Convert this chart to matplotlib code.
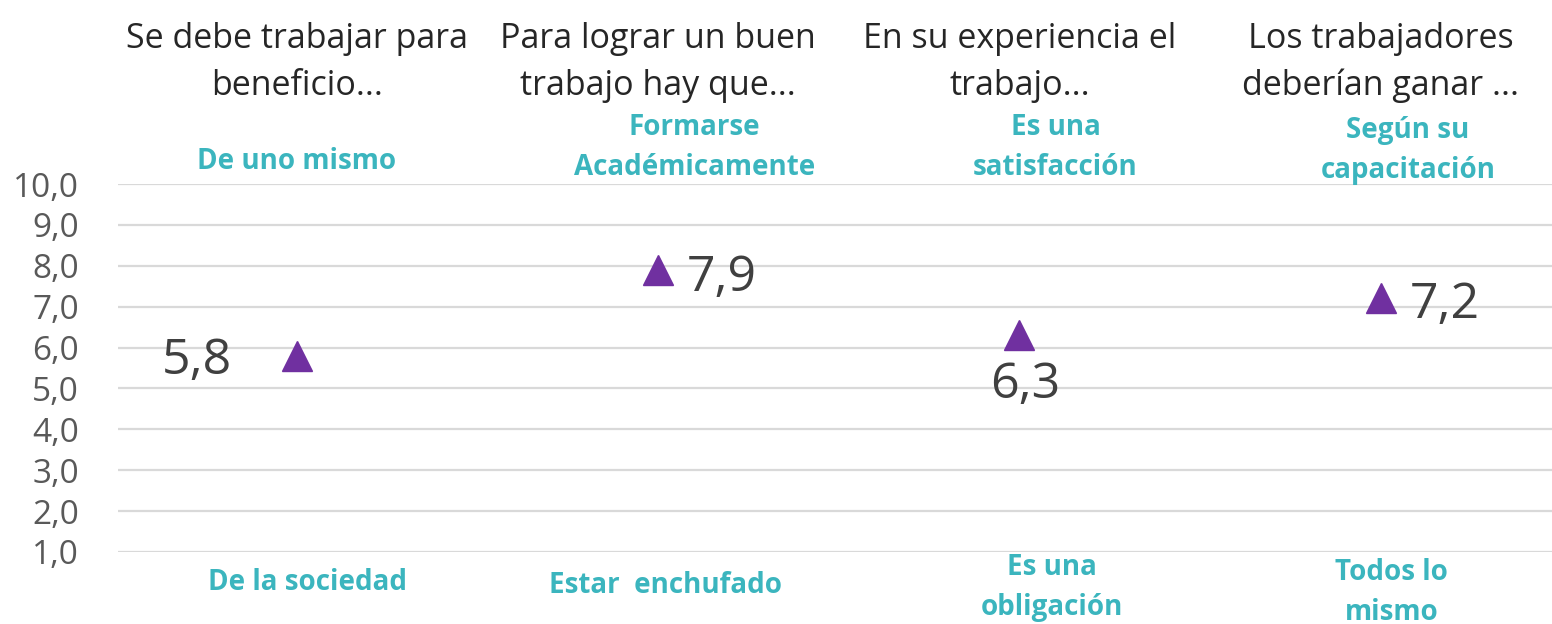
import matplotlib.pyplot as plt
from matplotlib.ticker import FuncFormatter

# data
preguntas = ["Se debe trabajar para\nbeneficio...", "Para lograr un buen\ntrabajo hay que...",
             "En su experiencia el\ntrabajo...", "Los trabajadores\ndeberían ganar ..."]
valores = [5.8, 7.9, 6.3, 7.2]
extremo_alto = ["De uno mismo", "Formarse\nAcadémicamente", "Es una\nsatisfacción", "Según su\ncapacitación"]
extremo_bajo = ["De la sociedad", "Estar  enchufado", "Es una\nobligación", "Todos lo\nmismo"]
yticks = [1, 2, 3, 4, 5, 6, 7, 8, 9, 10]

teal = "#3BB5BE"
morado = "#7030A0"

fig = plt.figure(figsize=(15.52, 6.24), dpi=100)
ax = fig.add_axes([0.076, 0.1154, 0.924, 0.5897])

x = list(range(len(valores)))
ax.plot(x, valores, linestyle="none", marker="^", markersize=21, color=morado, zorder=3)

ax.set_xlim(-0.495, 3.474)
ax.set_ylim(1, 10)
ax.set_yticks(yticks)
ax.yaxis.set_major_formatter(FuncFormatter(lambda v, p: f"{v:.1f}".replace(".", ",")))
ax.tick_params(axis="y", length=0, pad=28, labelsize=24, labelcolor="#595959")
for lab in ax.get_yticklabels():
    lab.set_family("Open Sans")
ax.set_xticks([])
ax.grid(axis="y", color="#d9d9d9", linewidth=1.6)
ax.set_axisbelow(True)
for s in ax.spines.values():
    s.set_visible(False)

# valores
offsets = [(-72, -4), (46, -6), (4, -36), (46, -5)]
for i, v in enumerate(valores):
    ax.annotate(f"{v:.1f}".replace(".", ","), (i, v), xytext=offsets[i], textcoords="offset points",
                ha="center", va="center", fontsize=36, color="#404040", family="Open Sans")

tr = ax.get_xaxis_transform()
# preguntas
for i, t in enumerate(preguntas):
    ax.text(i, 1.33, t, transform=tr, ha="center", va="center", fontsize=24.5,
            color="#262626", family="Open Sans", linespacing=1.5)

# etiquetas de los extremos
alto_pos = [(0.0, 1.06), (1.10, 1.10), (2.10, 1.10), (3.075, 1.09)]
bajo_pos = [(0.03, -0.084), (1.02, -0.092), (2.09, -0.096), (3.03, -0.109)]
for t, (px, py) in zip(extremo_alto, alto_pos):
    ax.text(px, py, t, transform=tr, ha="center", va="center", fontsize=20,
            fontweight="bold", color=teal, family="Open Sans", linespacing=1.5)
for t, (px, py) in zip(extremo_bajo, bajo_pos):
    ax.text(px, py, t, transform=tr, ha="center", va="center", fontsize=20,
            fontweight="bold", color=teal, family="Open Sans", linespacing=1.5)

fig.savefig("out.png", dpi=100)
